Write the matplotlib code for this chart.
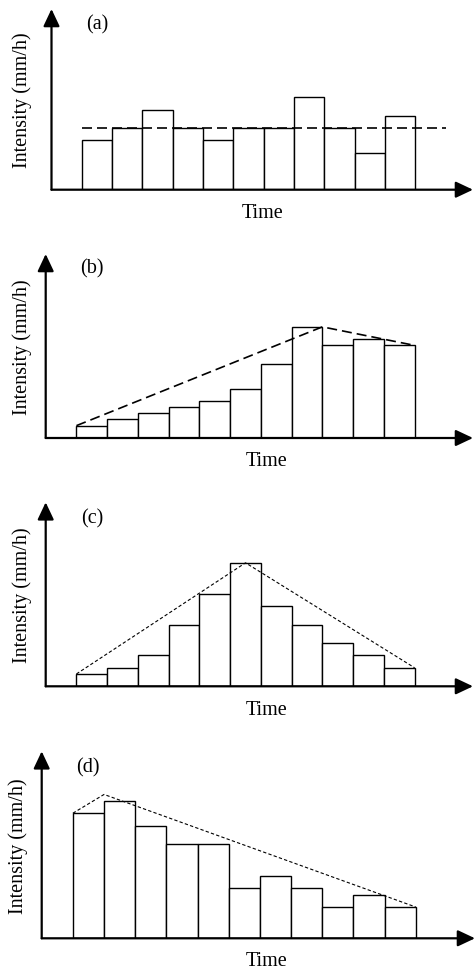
import matplotlib
matplotlib.use("Agg")
import matplotlib.pyplot as plt

plt.rcParams['font.family'] = ['Liberation Serif', 'DejaVu Serif']
plt.rcParams['font.size'] = 14.5

# bar heights (arbitrary intensity units), 11 time steps per panel
uniform_vals = [4, 5, 6.5, 5, 4, 5, 5, 7.5, 5, 3, 6]
uniform_mean = 5
advanced_vals = [1, 1.5, 2, 2.5, 3, 4, 6, 9, 7.5, 8, 7.5]
advanced_env_x = [0, 8, 11]
advanced_env_y = [1, 9, 7.5]
central_vals = [1, 1.5, 2.5, 5, 7.5, 10, 6.5, 5, 3.5, 2.5, 1.5]
central_env_x = [0, 5.5, 11]
central_env_y = [1, 10, 1.5]
delayed_vals = [10, 11, 9, 7.5, 7.5, 4, 5, 4, 2.5, 3.5, 2.5]
delayed_env_x = [0, 1, 11]
delayed_env_y = [10, 11.5, 2.5]
panel_labels = ['(a)', '(b)', '(c)', '(d)']

W, H = 476, 970
fig = plt.figure(figsize=(W / 100, H / 100), dpi=100)

# axes boxes in pixels: left, right, baseline y, top y
boxes = [
    (51.5, 473, 190.7, 10),
    (45.7, 473, 439, 255),
    (45.7, 473, 687.3, 503.3),
    (41.7, 475, 939.3, 752.3),
]
ytops = [14.65, 14.9, 14.9, 14.95]
# text spots in pixels
label_pos = [(97, 25), (92, 269), (92, 519), (88, 768)]
ylabel_x = [22.5, 22.5, 22.5, 18.5]
time_pos = [(263, 218.5), (267, 466.5), (267, 715), (267, 966)]


def make_axes(i):
    l, r, b, t = boxes[i]
    ax = fig.add_axes([l / W, 1 - b / H, (r - l) / W, (b - t) / H])
    ax.set_xlim(-1, 12.9)
    ax.set_ylim(0, ytops[i])
    ax.axis('off')
    arrow = dict(arrowstyle='-|>,head_length=0.7,head_width=0.33', lw=1.6,
                 color='black', mutation_scale=15, shrinkA=0, shrinkB=0)
    ax.annotate('', xy=(1, 0), xytext=(0, 0), xycoords='axes fraction',
                arrowprops=arrow)
    ax.annotate('', xy=(0, 1), xytext=(0, 0), xycoords='axes fraction',
                arrowprops=arrow)
    fig.text(label_pos[i][0] / W, 1 - label_pos[i][1] / H, panel_labels[i],
             ha='center', va='center')
    fig.text(ylabel_x[i] / W, 1 - (b + t) / 2 / H, 'Intensity (mm/h)',
             rotation=90, ha='center', va='center')
    fig.text(time_pos[i][0] / W, 1 - time_pos[i][1] / H, 'Time',
             ha='center', va='baseline')
    return ax


def draw_bars(ax, vals):
    ax.bar(range(len(vals)), vals, width=1, align='edge', color='white',
           edgecolor='black', linewidth=1, zorder=2)


axs = [make_axes(i) for i in range(4)]

draw_bars(axs[0], uniform_vals)
axs[0].plot([0, 12], [uniform_mean, uniform_mean], color='black', lw=1.2,
            linestyle=(0, (6, 3)), zorder=3)

draw_bars(axs[1], advanced_vals)
axs[1].plot(advanced_env_x, advanced_env_y, color='black', lw=1.2,
            linestyle=(0, (6, 3)), zorder=3)

draw_bars(axs[2], central_vals)
axs[2].plot(central_env_x, central_env_y, color='black', lw=0.8,
            linestyle=(0, (3, 2)), zorder=3)

draw_bars(axs[3], delayed_vals)
axs[3].plot(delayed_env_x, delayed_env_y, color='black', lw=0.8,
            linestyle=(0, (3, 2)), zorder=3)

fig.savefig('out.png', dpi=100)
